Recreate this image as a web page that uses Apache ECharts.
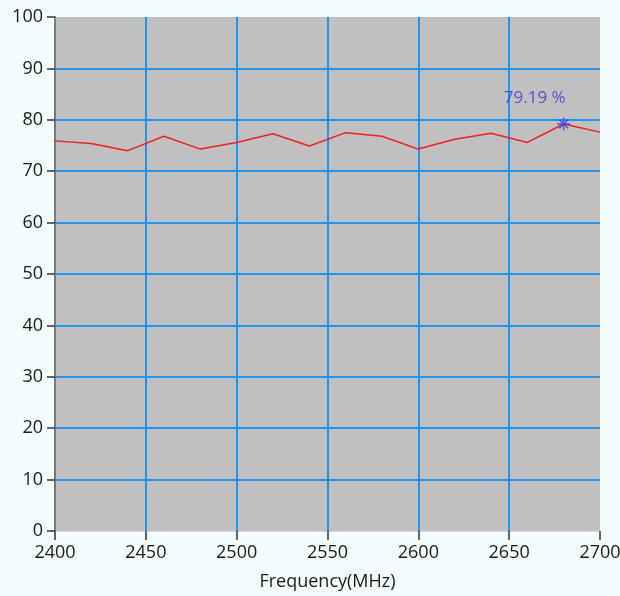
<!DOCTYPE html>
<html><head><meta charset="utf-8">
<script src="https://cdn.jsdelivr.net/npm/echarts@6/dist/echarts.min.js"></script>
<style>html,body{margin:0;padding:0;background:#f3fdfd}#c{width:620px;height:596px}</style>
</head><body><div id="c"></div>
<script>
const frequencies = [2400,2420,2440,2460,2480,2500,2520,2540,2560,2580,2600,2620,2640,2660,2680,2700];
const efficiency = [75.9,75.4,74.0,76.8,74.3,75.6,77.3,74.9,77.5,76.8,74.3,76.2,77.4,75.6,79.19,77.6];
const peakPoint = [2680, 79.19];
const peakLabel = '79.19 %';
const xAxisName = 'Frequency(MHz)';

const chart = echarts.init(document.getElementById('c'));
const font = '"Open Sans", "Noto Sans", sans-serif';
chart.setOption({
  backgroundColor: '#f3fdfd',
  animation: false,
  grid: {left: 55, right: 20, top: 17, bottom: 65, show: true, backgroundColor: '#c0c0c0', borderWidth: 0,
    containLabel: false, outerBoundsMode: 'none'},
  xAxis: {
    type: 'value', min: 2400, max: 2700, interval: 50,
    name: xAxisName, nameLocation: 'middle', nameGap: 42,
    nameTextStyle: {fontFamily: font, fontSize: 18, color: '#1a1a1a'},
    axisLine: {show: true, lineStyle: {color: '#d8d8d8', width: 1}},
    axisTick: {show: true, length: 9, lineStyle: {color: '#333', width: 1.5}},
    axisLabel: {fontFamily: font, fontSize: 18, color: '#1a1a1a', margin: 13, formatter: v => String(v)},
    splitLine: {show: true, showMinLine: false, showMaxLine: false, lineStyle: {color: '#1e96f0', width: 2}}
  },
  yAxis: {
    type: 'value', min: 0, max: 100, interval: 10,
    axisLine: {show: true, lineStyle: {color: '#7a7a7a', width: 2}},
    axisTick: {show: true, length: 8, lineStyle: {color: '#333', width: 1.5}},
    axisLabel: {fontFamily: font, fontSize: 18, color: '#1a1a1a', margin: 12},
    splitLine: {show: true, showMinLine: false, showMaxLine: false, lineStyle: {color: '#1e96f0', width: 2}}
  },
  series: [
    {
      type: 'line', data: frequencies.map((f, i) => [f, efficiency[i]]),
      symbol: 'none', lineStyle: {color: '#f02020', width: 1.5}, z: 3
    },
    {
      type: 'scatter', data: [peakPoint],
      symbol: 'path://M0,-6L0,6M-6,0L6,0M-4.2,-4.2L4.2,4.2M-4.2,4.2L4.2,-4.2',
      symbolSize: 13,
      itemStyle: {color: 'none', borderColor: '#3040e0', borderWidth: 1.5},
      label: {show: true, formatter: peakLabel, position: 'top', offset: [-29, -3],
        fontFamily: font, fontSize: 17, color: '#3238d8'},
      z: 4
    }
  ]
});
</script></body></html>
